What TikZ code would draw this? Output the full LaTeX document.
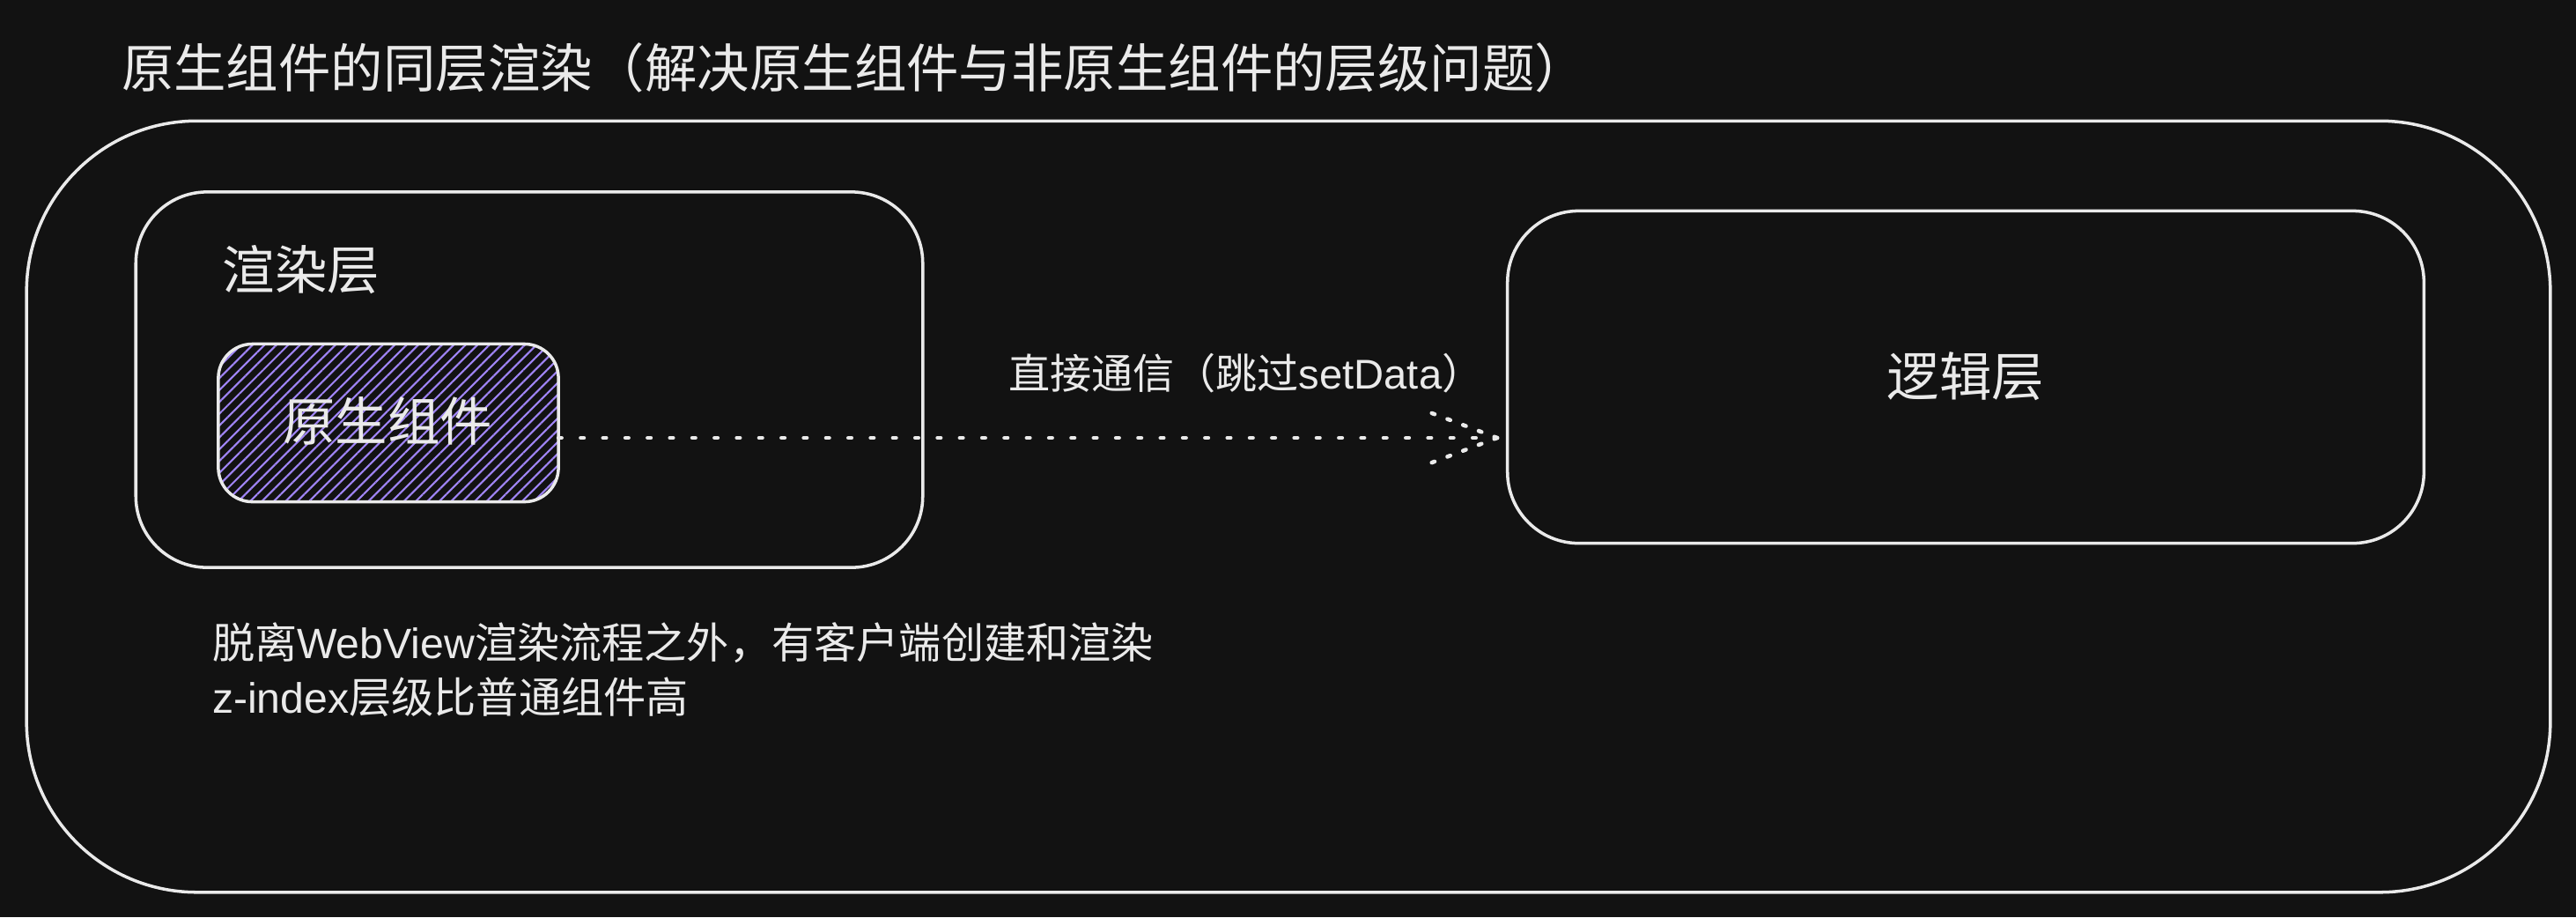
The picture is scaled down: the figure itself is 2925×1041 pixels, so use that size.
\documentclass[tikz,border=0pt]{standalone}
\usepackage{fontspec}
\setmainfont{Liberation Sans}
\newfontfamily\cjk{Noto Sans CJK SC}
\usetikzlibrary{patterns.meta}
\definecolor{bgc}{HTML}{121212}
\definecolor{fg}{HTML}{EAEAEA}
\definecolor{hatchc}{HTML}{A085F7}
\begin{document}
\begin{tikzpicture}[x=0.01cm,y=-0.01cm,
  box/.style={draw=fg, line width=1pt, inner sep=0pt, outer sep=0pt},
  lbl/.style={text=fg, inner sep=0pt, outer sep=0pt},
  bigfont/.style={font=\fontsize{16.9pt}{20pt}\selectfont\cjk},
  descfont/.style={font=\fontsize{13.7pt}{17.6pt}\selectfont},
  arrowfont/.style={font=\fontsize{13.4pt}{16pt}\selectfont},
  dotline/.style={draw=fg, line width=1.3pt, line cap=round, dash pattern=on 1pt off 6.2pt},
  dothead/.style={draw=fg, line width=1.3pt, line cap=round, dash pattern=on 1pt off 4.4pt},
]
\fill[bgc] (0,0) rectangle (2925,1041);
\useasboundingbox (0,0) rectangle (2925,1041);

% title
\node[lbl, bigfont, anchor=west] (title) at (138,77) {原生组件的同层渲染（解决原生组件与非原生组件的层级问题）};

% outer frame
\node[box, rounded corners=55pt, minimum width=28.64cm, minimum height=8.75cm] (outer) at (1463,575) {};

% render layer
\node[box, rounded corners=23pt, minimum width=8.93cm, minimum height=4.26cm] (render) at (601,431) {};
\node[lbl, bigfont] (renderlbl) at (342,306) {渲染层};

% native component (hatched)
\node[box, rounded corners=11pt, minimum width=3.86cm, minimum height=1.79cm,
      pattern={Lines[angle=45,distance=2.7pt,line width=0.6pt]}, pattern color=hatchc] (native) at (441,480) {};
\node[lbl, bigfont] (nativelbl) at (440,478) {原生组件};

% logic layer
\node[box, rounded corners=23pt, minimum width=10.4cm, minimum height=3.77cm] (logic) at (2232,428) {};
\node[lbl, bigfont] (logiclbl) at (2232,427) {逻辑层};

% arrow
\coordinate (tip) at (1700,497);
\draw[dotline] (native.east |- tip) -- (tip);
\draw[dothead] (tip) -- ++(-82,-31);
\draw[dothead] (tip) -- ++(-82,31);
\node[lbl, arrowfont, anchor=west] (arrowlbl) at (1145,424) {{\cjk 直接通信（跳过}setData{\cjk ）}};

% description
\node[lbl, descfont, anchor=west, align=left] (desc) at (241,760)
  {{\cjk 脱离}WebView{\cjk 渲染流程之外，有客户端创建和渲染}\\z-index{\cjk 层级比普通组件高}};
\end{tikzpicture}
\end{document}
